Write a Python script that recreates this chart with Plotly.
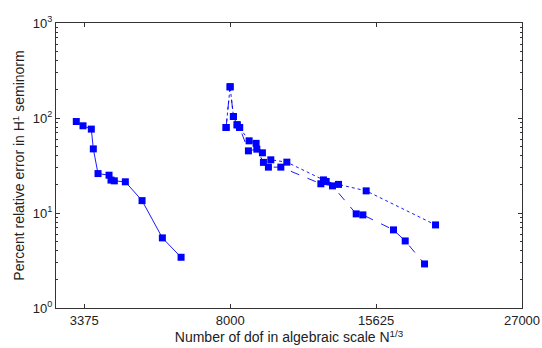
import numpy as np
import plotly.graph_objects as go

# Series 1 (solid): number of dof N and percent relative error
solid_dof = [3193, 3345, 3540, 3588, 3702, 3980, 4031, 4118, 4416, 4895, 5522, 6145]
solid_err = [91.8, 82.8, 76.4, 47.3, 26.0, 25.0, 22.2, 21.8, 21.3, 13.5, 5.47, 3.42]

# Series 2 (dashed)
dashed_dof = [7832, 7996, 8133, 8288, 8393, 8773, 9145, 9446, 9677, 10268,
              12338, 12986, 14381, 14791, 16771, 17572, 18949]
dashed_err = [79.4, 213, 103.7, 84.8, 79.4, 45.1, 47.0, 34.1, 30.4, 30.4,
              20.3, 19.3, 9.79, 9.55, 6.64, 5.08, 2.91]

# Series 3 (dotted)
dotted_dof = [7832, 7996, 8133, 8288, 8393, 8803, 9114, 9399, 9789, 10563,
              12481, 12631, 13330, 14996, 19764]
dotted_err = [79.4, 213, 103.7, 84.8, 79.4, 57.5, 54.1, 43.0, 36.3, 34.3,
              22.3, 21.5, 20.0, 17.1, 7.49]

x_tick_labels = ["3375", "8000", "15625", "27000"]
y_tick_labels = ["10<sup>0</sup>", "10<sup>1</sup>", "10<sup>2</sup>", "10<sup>3</sup>"]

x_tick_vals = [float(v) for v in np.cbrt([int(t) for t in x_tick_labels])]
y_tick_vals = [1, 10, 100, 1000]

BLUE = "#0000ff"
FONT = "Liberation Sans, Arial, sans-serif"

fig = go.Figure()
for dof, err, dash in [(solid_dof, solid_err, "solid"),
                       (dashed_dof, dashed_err, "dash"),
                       (dotted_dof, dotted_err, "dot")]:
    fig.add_trace(go.Scatter(
        x=np.cbrt(dof), y=err, mode="lines+markers",
        line=dict(color=BLUE, width=0.9, dash=dash),
        marker=dict(symbol="square", size=7, color=BLUE, line=dict(width=0)),
        showlegend=False, cliponaxis=False))

minor_vals = [m * 10 ** k for k in range(3) for m in range(2, 10)]

fig.update_layout(
    width=542, height=348,
    margin=dict(l=56, r=20, t=23, b=40),
    paper_bgcolor="white", plot_bgcolor="white",
    font=dict(family=FONT, size=13, color="#222"),
    xaxis=dict(
        range=[14.03, 30], tickmode="array", tickvals=x_tick_vals, ticktext=x_tick_labels,
        ticks="inside", ticklen=4, tickcolor="#333", showline=True, linecolor="#333",
        linewidth=1, mirror="ticks", showgrid=False, zeroline=False, automargin=False,
        title=dict(text="Number of dof in algebraic scale N<sup>1/3</sup>", standoff=0,
                   font=dict(size=14)),
        tickfont=dict(size=13),
    ),
    yaxis=dict(
        type="log", range=[0, 3], tickmode="array", tickvals=y_tick_vals, ticktext=y_tick_labels,
        ticks="inside", ticklen=4, tickcolor="#333", showline=True, linecolor="#333",
        linewidth=1, mirror="ticks", showgrid=False, zeroline=False, automargin=False,
        minor=dict(ticks="inside", ticklen=2, tickcolor="#333", tickvals=minor_vals, showgrid=False),
        title=dict(text="Percent relative error in H<sup>1</sup> seminorm", standoff=4,
                   font=dict(size=14)),
        tickfont=dict(size=13),
    ),
)

fig.write_html("out.html", config={"displayModeBar": False},
               post_script="document.body.style.margin='0';")
